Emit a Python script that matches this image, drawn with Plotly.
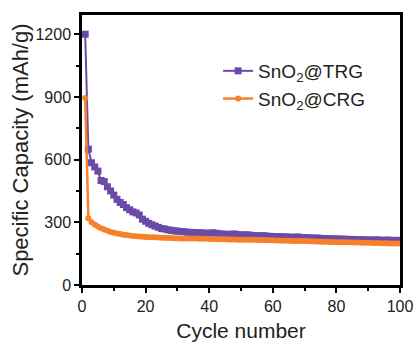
import plotly.graph_objects as go

cycles = list(range(1, 101))

trg = [1200, 650, 585, 565, 545, 500, 495, 470, 450, 430,
       410, 395, 385, 370, 360, 350, 345, 335, 315, 305,
       295, 288, 282, 276, 270, 268, 264, 262, 259, 258,
       256, 255, 253, 252, 251, 250, 250, 249, 248, 247,
       250, 248, 245, 244, 243, 242, 243, 244, 241, 240,
       239, 240, 238, 237, 236, 235, 236, 234, 233, 232,
       232, 231, 231, 230, 229, 229, 228, 230, 227, 226,
       226, 225, 224, 225, 223, 222, 222, 221, 221, 220,
       220, 219, 219, 218, 218, 217, 217, 216, 216, 215,
       215, 215, 216, 214, 214, 215, 214, 213, 214, 213]

crg = [895, 320, 300, 290, 280, 272, 265, 259, 254, 250,
       247, 244, 241, 239, 237, 235, 233, 232, 231, 230,
       229, 228, 228, 227, 226, 226, 225, 225, 224, 224,
       223, 223, 223, 222, 222, 222, 221, 221, 221, 220,
       220, 220, 219, 219, 219, 218, 218, 218, 217, 217,
       217, 216, 216, 216, 215, 215, 215, 214, 214, 214,
       213, 213, 212, 212, 212, 211, 211, 210, 210, 210,
       209, 209, 208, 208, 207, 207, 207, 206, 206, 205,
       205, 205, 204, 204, 203, 203, 203, 202, 202, 202,
       201, 201, 201, 200, 200, 200, 199, 199, 199, 198]

x_ticks = [0, 20, 40, 60, 80, 100]
y_ticks = [0, 300, 600, 900, 1200]

purple = "#6b4aa8"
orange = "#f7812b"
FONT = "Liberation Sans, Arial"

fig = go.Figure()
fig.add_trace(go.Scatter(x=cycles, y=trg, mode="lines+markers", name="SnO<sub>2</sub>@TRG",
                         line=dict(color=purple, width=2),
                         marker=dict(symbol="square", size=7, color=purple)))
fig.add_trace(go.Scatter(x=cycles, y=crg, mode="lines+markers", name="SnO<sub>2</sub>@CRG",
                         line=dict(color=orange, width=2.5),
                         marker=dict(symbol="circle", size=6, color=orange)))

axis_common = dict(showline=True, linecolor="black", linewidth=2.5, mirror=True,
                   ticks="outside", ticklen=5, tickwidth=2, tickcolor="black",
                   showgrid=False, zeroline=False, automargin=False,
                   tickfont=dict(family=FONT, size=16, color="#222"))

fig.update_xaxes(range=[0, 100], tickvals=x_ticks,
                 minor=dict(ticks="outside", dtick=10, ticklen=3, tickwidth=2, tickcolor="black"),
                 title=dict(text="Cycle number", font=dict(family=FONT, size=21, color="#222"),
                            standoff=10),
                 **axis_common)
fig.update_yaxes(range=[0, 1292], tickvals=y_ticks,
                 minor=dict(ticks="outside", dtick=150, ticklen=3, tickwidth=2, tickcolor="black"),
                 title=dict(text="Specific Capacity (mAh/g)", font=dict(family=FONT, size=22, color="#222"),
                            standoff=1),
                 **axis_common)

fig.update_layout(width=415, height=342,
                  margin=dict(l=82, r=15, t=15, b=57),
                  paper_bgcolor="white", plot_bgcolor="white",
                  legend=dict(x=0.428, y=0.863, xanchor="left", yanchor="top",
                              bgcolor="rgba(0,0,0,0)",
                              font=dict(family=FONT, size=19, color="#222")),
                  showlegend=True)

fig.write_html("out.html", config={"displayModeBar": False},
               post_script="document.body.style.margin='0';document.body.style.overflow='hidden';")
